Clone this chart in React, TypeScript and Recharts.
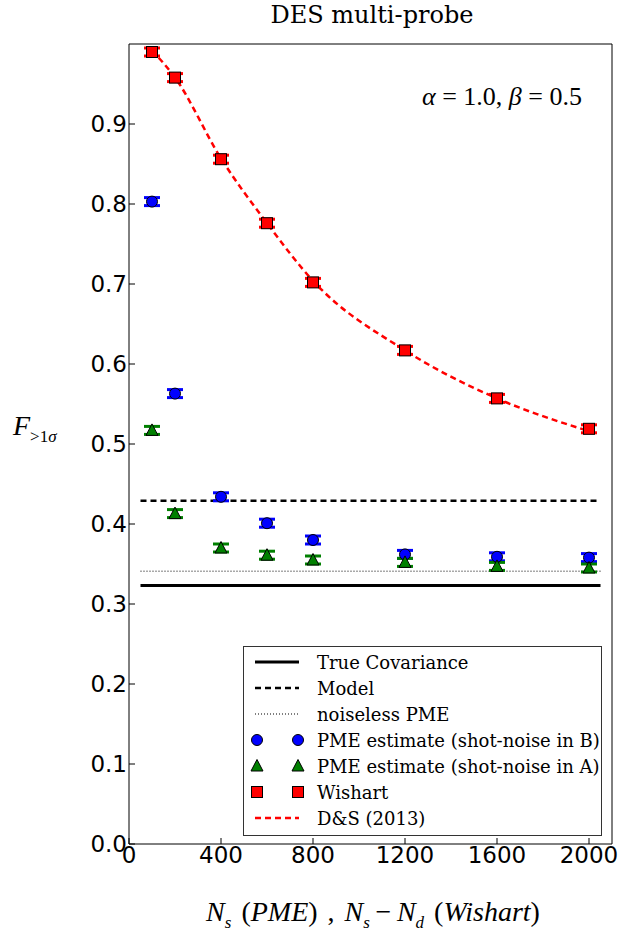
import React from "react";
import {
  ComposedChart,
  Line,
  Scatter,
  XAxis,
  YAxis,
  ErrorBar,
} from "recharts";

// sample counts on the x axis
const nVals = [100, 200, 400, 600, 800, 1200, 1600, 2000];
const wishart = [0.99, 0.958, 0.856, 0.776, 0.702, 0.617, 0.557, 0.519];
const pmeB = [0.803, 0.563, 0.434, 0.401, 0.38, 0.362, 0.359, 0.358];
const pmeA = [0.517, 0.413, 0.37, 0.361, 0.355, 0.352, 0.347, 0.345];
const dsCurve = [0.992, 0.958, 0.857, 0.776, 0.704, 0.617, 0.557, 0.516];
const errs = [0.005, 0.005, 0.005, 0.005, 0.005, 0.005, 0.005, 0.005];

const hLineX = [50, 2050];
const trueCov = 0.323;
const modelVal = 0.429;
const noiselessVal = 0.341;

const xTicks = [0, 400, 800, 1200, 1600, 2000];
const yTicks = [0, 0.1, 0.2, 0.3, 0.4, 0.5, 0.6, 0.7, 0.8, 0.9];

const seriesNames = [
  "True Covariance",
  "Model",
  "noiseless PME",
  "PME estimate (shot-noise in B)",
  "PME estimate (shot-noise in A)",
  "Wishart",
  "D&S (2013)",
];

const toPoints = (ys: number[]) =>
  nVals.map((x, i) => ({ x, y: ys[i], err: errs[i] }));
const flat = (v: number) => hLineX.map((x) => ({ x, y: v }));

const serif = "'DejaVu Serif', serif";
const sans = "'DejaVu Sans', sans-serif";
const math = "'Liberation Serif', serif";

function Square(props: any) {
  const { cx, cy } = props;
  return <rect x={cx - 5.5} y={cy - 5.5} width={11} height={11} fill="#ff0000" stroke="#000" strokeWidth={1} />;
}
function Circle(props: any) {
  const { cx, cy } = props;
  return <circle cx={cx} cy={cy} r={5.5} fill="#0000ff" stroke="#000" strokeWidth={1} />;
}
function Triangle(props: any) {
  const { cx, cy } = props;
  return (
    <polygon
      points={`${cx},${cy - 6.5} ${cx - 6},${cy + 5} ${cx + 6},${cy + 5}`}
      fill="#008000"
      stroke="#000"
      strokeWidth={1}
    />
  );
}

function LegendBox() {
  const glyphs = [
    <line x1={11} y1={13} x2={55} y2={13} stroke="#000" strokeWidth={3} />,
    <line x1={11} y1={13} x2={55} y2={13} stroke="#000" strokeWidth={2.5} strokeDasharray="6 4" />,
    <line x1={11} y1={13} x2={55} y2={13} stroke="#555" strokeWidth={1.5} strokeDasharray="1 2" />,
    <g>
      <Circle cx={13} cy={13} />
      <Circle cx={54} cy={13} />
    </g>,
    <g>
      <Triangle cx={13} cy={13} />
      <Triangle cx={54} cy={13} />
    </g>,
    <g>
      <Square cx={13} cy={13} />
      <Square cx={54} cy={13} />
    </g>,
    <line x1={11} y1={13} x2={55} y2={13} stroke="#ff0000" strokeWidth={2.5} strokeDasharray="6 4" />,
  ];
  return (
    <div
      style={{
        position: "absolute",
        left: 243,
        top: 646,
        width: 357,
        height: 186,
        border: "1px solid #333",
        background: "#fff",
        paddingTop: 2,
        boxSizing: "content-box",
      }}
    >
      {seriesNames.map((name, i) => (
        <div key={name} style={{ display: "flex", alignItems: "center", height: 26 }}>
          <svg width={70} height={26} style={{ flex: "none" }}>
            {glyphs[i]}
          </svg>
          <span style={{ fontFamily: serif, fontSize: 18, marginLeft: 3, whiteSpace: "nowrap" }}>
            {name}
          </span>
        </div>
      ))}
    </div>
  );
}

export default function App() {
  return (
    <div style={{ position: "absolute", left: 0, top: 0, width: 635, height: 945, background: "#fff" }}>
      <ComposedChart
        width={635}
        height={945}
        margin={{ top: 43, right: 22, bottom: 71, left: 69 }}
      >
        <XAxis
          dataKey="x"
          type="number"
          domain={[0, 2100]}
          ticks={xTicks}
          height={30}
          tickSize={-6}
          tickMargin={9}
          stroke="#000"
          tick={{ fill: "#000", fontSize: 23, fontFamily: sans }}
        />
        <XAxis
          xAxisId="t"
          orientation="top"
          dataKey="x"
          type="number"
          domain={[0, 2100]}
          ticks={xTicks}
          height={1}
          tickSize={-6}
          tickFormatter={() => ""}
          stroke="#000"
        />
        <YAxis
          type="number"
          domain={[0, 1]}
          ticks={yTicks}
          width={60}
          tickSize={-6}
          tickMargin={8}
          stroke="#000"
          tickFormatter={(v: number) => v.toFixed(1)}
          tick={{ fill: "#000", fontSize: 23, fontFamily: sans }}
        />
        <YAxis
          yAxisId="r"
          orientation="right"
          type="number"
          domain={[0, 1]}
          ticks={yTicks}
          width={1}
          tickSize={-6}
          tickFormatter={() => ""}
          stroke="#000"
        />
        <Line data={flat(trueCov)} dataKey="y" stroke="#000" strokeWidth={3} dot={false} isAnimationActive={false} />
        <Line data={flat(modelVal)} dataKey="y" stroke="#000" strokeWidth={2.5} strokeDasharray="6 4" dot={false} isAnimationActive={false} />
        <Line data={flat(noiselessVal)} dataKey="y" stroke="#555" strokeWidth={1.5} strokeDasharray="1 2" dot={false} isAnimationActive={false} />
        <Line
          data={toPoints(dsCurve)}
          dataKey="y"
          type="monotone"
          stroke="#ff0000"
          strokeWidth={2.5}
          strokeDasharray="6 4"
          dot={false}
          isAnimationActive={false}
        />
        <Scatter data={toPoints(pmeB)} dataKey="y" shape={Circle} isAnimationActive={false}>
          <ErrorBar dataKey="err" direction="y" width={8} stroke="#0000ff" strokeWidth={3} />
        </Scatter>
        <Scatter data={toPoints(pmeA)} dataKey="y" shape={Triangle} isAnimationActive={false}>
          <ErrorBar dataKey="err" direction="y" width={8} stroke="#008000" strokeWidth={3} />
        </Scatter>
        <Scatter data={toPoints(wishart)} dataKey="y" shape={Square} isAnimationActive={false}>
          <ErrorBar dataKey="err" direction="y" width={8} stroke="#ff0000" strokeWidth={3} />
        </Scatter>
      </ComposedChart>

      <div style={{ position: "absolute", left: 0, width: 744, top: 1, textAlign: "center", fontFamily: serif, fontSize: 24 }}>
        DES multi-probe
      </div>
      <div style={{ position: "absolute", left: 422, top: 82, fontFamily: math, fontSize: 26, whiteSpace: "nowrap" }}>
        <i>α</i> = 1.0, <i>β</i> = 0.5
      </div>
      <div style={{ position: "absolute", left: 13, top: 410, fontFamily: math, fontSize: 28, whiteSpace: "nowrap" }}>
        <i>F</i>
        <sub style={{ fontSize: 17 }}>&gt;1<i>σ</i></sub>
      </div>
      <div style={{ position: "absolute", left: 0, width: 746, top: 896, textAlign: "center", fontFamily: math, fontSize: 28, whiteSpace: "nowrap", wordSpacing: 3 }}>
        <i>N</i>
        <sub style={{ fontSize: 17 }}>
          <i>s</i>
        </sub>{"  "}
        (<i>PME</i>) , <i>N</i>
        <sub style={{ fontSize: 17 }}>
          <i>s</i>
        </sub>
        {"\u2009−\u2009"}<i>N</i>
        <sub style={{ fontSize: 17 }}>
          <i>d</i>
        </sub>{" "}
        (<i>Wishart</i>)
      </div>
      <LegendBox />
    </div>
  );
}
